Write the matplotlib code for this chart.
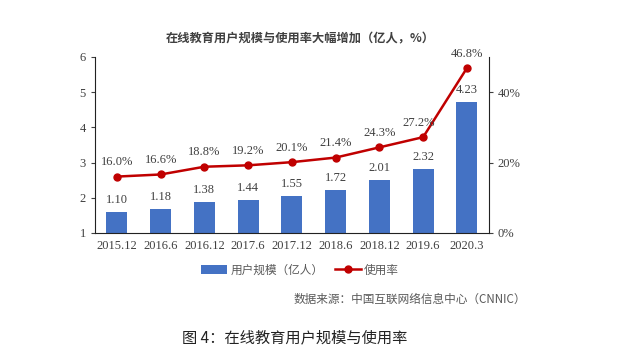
import numpy as np
import matplotlib
matplotlib.use("Agg")
import matplotlib.pyplot as plt
from matplotlib.ticker import FuncFormatter

# data
periods = ["2015.12", "2016.6", "2016.12", "2017.6", "2017.12",
           "2018.6", "2018.12", "2019.6", "2020.3"]
users = [1.10, 1.18, 1.38, 1.44, 1.55, 1.72, 2.01, 2.32, 4.23]
rates = [16.0, 16.6, 18.8, 19.2, 20.1, 21.4, 24.3, 27.2, 46.8]
left_labels = ["1", "2", "3", "4", "5", "6"]

BLUE = "#4472C4"
RED = "#C00000"
GREY = "#404040"
SERIF = ["Liberation Serif", "Noto Sans CJK SC"]
CJK = ["Noto Sans CJK SC", "DejaVu Sans"]

plt.rcParams["font.family"] = SERIF

fig = plt.figure(figsize=(6.25, 3.6), dpi=100)
ax = fig.add_axes([0.152, 0.353, 0.630, 0.489])

x = np.arange(len(periods))

# ================= BARS =================
bars = ax.bar(x, users, width=0.48, color=BLUE, zorder=2)
for xi, v in zip(x, users):
    ax.annotate(f"{v:.2f}", (xi, v), xytext=(0, 4), textcoords="offset points",
                ha="center", va="bottom", fontsize=9, color=GREY)

# the source chart's bar axis starts half a unit below its "1" label
ax.set_xlim(-0.5, len(periods) - 0.5)
ax.set_ylim(0.5, 5.5)
ax.set_yticks(np.arange(0.5, 6, 1))
ax.set_yticklabels(left_labels)
ax.set_xticks(x)
ax.set_xticklabels(periods)
ax.tick_params(axis="x", length=0, pad=5, labelsize=9, colors=GREY)
ax.tick_params(axis="y", length=3, labelsize=9, colors=GREY)
for s in ["top", "right"]:
    ax.spines[s].set_visible(False)
for s in ["left", "bottom"]:
    ax.spines[s].set_color("#222222")

# ================= LINE =================
ax2 = ax.twinx()
line, = ax2.plot(x, rates, color=RED, lw=1.8, marker="o", ms=5, zorder=3)
for xi, r in zip(x, rates):
    dx = -3 if xi == 7 else 0
    ax2.annotate(f"{r:.1f}%", (xi, r), xytext=(dx, 6), textcoords="offset points",
                 ha="center", va="bottom", fontsize=9, color=GREY)
ax2.set_ylim(0, 50)
ax2.set_yticks([0, 20, 40])
ax2.yaxis.set_major_formatter(FuncFormatter(lambda v, p: f"{v:.0f}%"))
ax2.tick_params(axis="y", length=3, labelsize=9, colors=GREY)
for s in ["top", "left", "bottom"]:
    ax2.spines[s].set_visible(False)
ax2.spines["right"].set_color("#222222")

# ================= TEXT =================
fig.text(0.48, 0.893, "在线教育用户规模与使用率大幅增加（亿人，%）", ha="center", va="center",
         fontsize=8.8, fontweight="bold", color=GREY, family=CJK)

leg = fig.legend([bars, line], ["用户规模（亿人）", "使用率"], loc="center",
                 bbox_to_anchor=(0.48, 0.25), ncol=2, frameon=False,
                 prop={"family": CJK, "size": 8.4}, handlelength=2.2,
                 columnspacing=1.0, handletextpad=0.3)
for t in leg.get_texts():
    t.set_color("#595959")

fig.text(0.842, 0.168, "数据来源：中国互联网络信息中心（CNNIC）", ha="right", va="center",
         fontsize=8.4, color="#595959", family=CJK)
fig.text(0.292, 0.062, "图 4：在线教育用户规模与使用率", ha="left", va="center",
         fontsize=11, color="#222222", family=CJK)

fig.savefig("out.png", dpi=100)
